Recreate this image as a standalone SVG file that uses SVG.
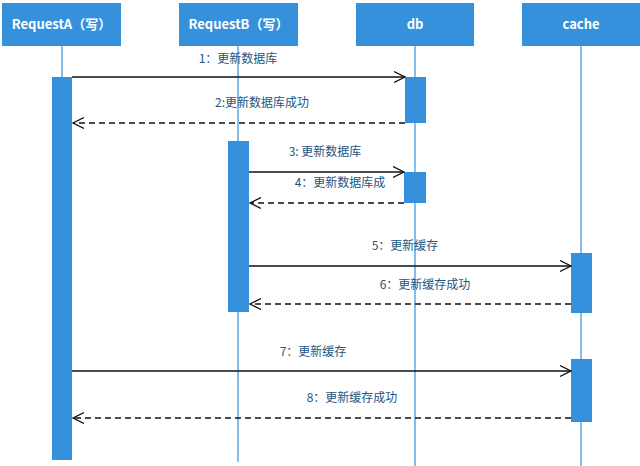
<svg xmlns="http://www.w3.org/2000/svg" width="640" height="466" viewBox="0 0 640 466">
<defs>
<marker id="open" viewBox="0 0 12 12" refX="11" refY="6" markerWidth="12" markerHeight="12" markerUnits="userSpaceOnUse" orient="auto-start-reverse">
<path d="M0,0.5 L11,6 L0,11.5" fill="none" stroke="#111" stroke-width="1.2"/>
</marker>
</defs>
<style>
.hdr{fill:#3591dc}
.hdrt{fill:#fff;font-family:"Noto Sans CJK SC","Noto Sans",sans-serif;font-size:13px;font-weight:600;text-anchor:middle}
.life{stroke:#3591dc;stroke-width:1.2;fill:none}
.bar{fill:#3591dc}
.msg{stroke:#111;stroke-width:1.3;fill:none;marker-end:url(#open)}
.ret{stroke:#111;stroke-width:1.3;fill:none;stroke-dasharray:6 4;marker-end:url(#open)}
.lbl{fill:#24557f;font-family:"Noto Sans CJK SC","Noto Sans",sans-serif;font-size:12px;text-anchor:middle}
</style>
<rect width="640" height="466" fill="#fff"/>
<g id="lifelines">
<line class="life" x1="62" y1="46" x2="62" y2="460"/>
<line class="life" x1="238" y1="46" x2="238" y2="462"/>
<line class="life" x1="415" y1="46" x2="415" y2="466"/>
<line class="life" x1="581" y1="46" x2="581" y2="466"/>
</g>
<g id="requestA">
<rect class="hdr" x="2" y="3" width="119" height="43"/>
<text class="hdrt" x="61.5" y="29">RequestA（写）</text>
<rect class="bar" x="52" y="77" width="20" height="383"/>
</g>
<g id="requestB">
<rect class="hdr" x="179" y="3" width="119" height="43"/>
<text class="hdrt" x="238.5" y="29">RequestB（写）</text>
<rect class="bar" x="228" y="141" width="21" height="171"/>
</g>
<g id="db">
<rect class="hdr" x="356" y="3" width="118" height="43"/>
<text class="hdrt" x="415" y="29">db</text>
<rect class="bar" x="405" y="77" width="21" height="46"/>
<rect class="bar" x="404" y="172" width="22" height="31"/>
</g>
<g id="cache">
<rect class="hdr" x="522" y="3" width="118" height="43"/>
<text class="hdrt" x="581" y="29">cache</text>
<rect class="bar" x="571" y="253" width="21" height="60"/>
<rect class="bar" x="571" y="359" width="21" height="63"/>
</g>
<g id="connectors">
<line class="msg" x1="72" y1="77" x2="405" y2="77"/>
<line class="ret" x1="405" y1="123" x2="73" y2="123"/>
<line class="msg" x1="249" y1="172" x2="404" y2="172"/>
<line class="ret" x1="404" y1="203" x2="250" y2="203"/>
<line class="msg" x1="249" y1="266" x2="571" y2="266"/>
<line class="ret" x1="571" y1="304" x2="250" y2="304"/>
<line class="msg" x1="72" y1="371" x2="571" y2="371"/>
<line class="ret" x1="571" y1="418" x2="73" y2="418"/>
</g>
<g id="labels">
<text class="lbl" x="238" y="63">1：更新数据库</text>
<text class="lbl" x="262" y="107">2:更新数据库成功</text>
<text class="lbl" x="325" y="156">3: 更新数据库</text>
<text class="lbl" x="340" y="187">4：更新数据库成</text>
<text class="lbl" x="405" y="250">5：更新缓存</text>
<text class="lbl" x="425" y="289">6：更新缓存成功</text>
<text class="lbl" x="313" y="356">7：更新缓存</text>
<text class="lbl" x="352" y="402">8：更新缓存成功</text>
</g>
</svg>
